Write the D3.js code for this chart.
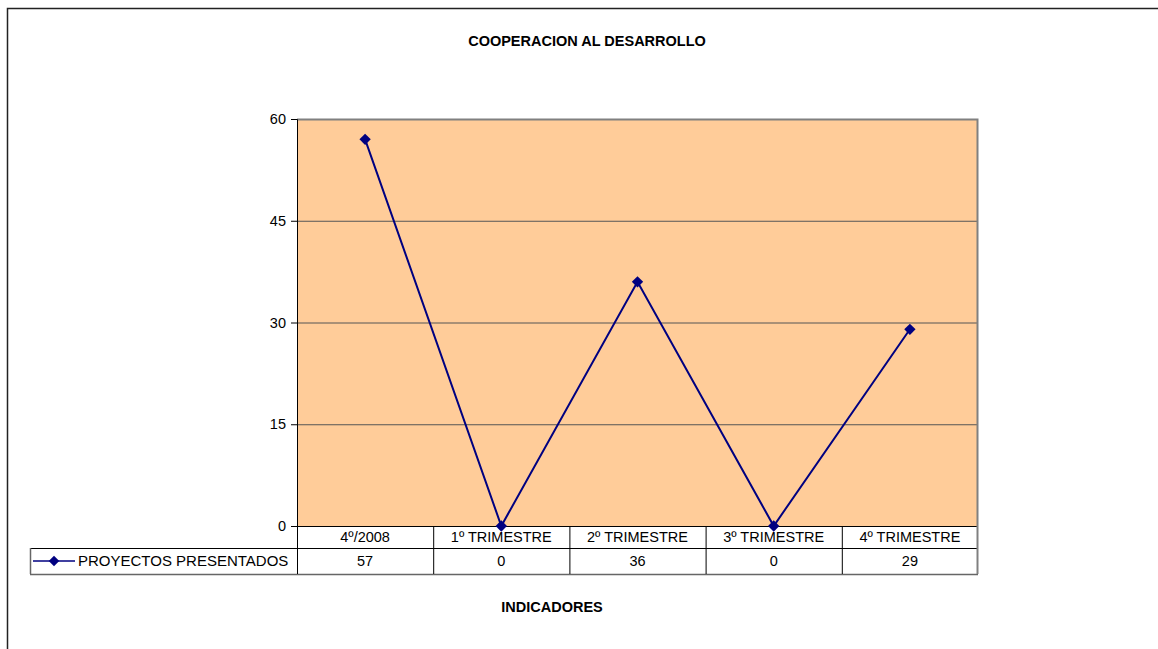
<!DOCTYPE html>
<html>
<head>
<meta charset="utf-8">
<script src="https://cdn.jsdelivr.net/npm/d3@7"></script>
<style>
body { margin: 0; background: #fff; }
text { font-family: Arial, "Liberation Sans", sans-serif; }
</style>
</head>
<body>
<div id="chart-area"></div>
<script>
// datos
var categories = ["4º/2008", "1º TRIMESTRE", "2º TRIMESTRE", "3º TRIMESTRE", "4º TRIMESTRE"];
var proyectos = [57, 0, 36, 0, 29];
var yTicks = [0, 15, 30, 45, 60];
var seriesName = "PROYECTOS PRESENTADOS";

var margin = { left: 297, top: 119 };
var width = 681;
var height = 407;
var fs = "14.5px";

var svg = d3.select("#chart-area").append("svg")
    .attr("width", 1158)
    .attr("height", 649);

// marco exterior
svg.append("rect")
    .attr("x", 7.5).attr("y", 8.5)
    .attr("width", 1170).attr("height", 660)
    .attr("fill", "white")
    .attr("stroke", "#222")
    .attr("stroke-width", 1.5);

svg.append("text")
    .attr("x", 587).attr("y", 46)
    .attr("text-anchor", "middle")
    .attr("font-size", fs)
    .attr("font-weight", "bold")
    .text("COOPERACION AL DESARROLLO");

var g = svg.append("g")
    .attr("transform", "translate(" + margin.left + ", " + margin.top + ")");

var x = d3.scaleBand()
    .domain(categories)
    .range([0, width]);

var y = d3.scaleLinear()
    .domain([0, 60])
    .range([height, 0]);

g.append("rect")
    .attr("width", width).attr("height", height)
    .attr("fill", "#ffcc99");

// lineas de division
g.selectAll(".grid")
    .data(yTicks.filter((d) => d > 0 && d < 60))
    .enter().append("line")
    .attr("x1", 0).attr("x2", width)
    .attr("y1", (d) => y(d) + 0.5).attr("y2", (d) => y(d) + 0.5)
    .attr("stroke", "#555").attr("stroke-width", 1);

// borde del area (arriba y derecha gris)
g.append("path")
    .attr("d", "M0," + 0.5 + "H" + (width - 0.5) + "V" + height)
    .attr("fill", "none")
    .attr("stroke", "#808080").attr("stroke-width", 2);

var leftAxis = d3.axisLeft(y).tickValues(yTicks).tickSize(6).tickPadding(5);
var ax = g.append("g").attr("class", "left axis").call(leftAxis);
ax.select(".domain").attr("stroke", "#000");
ax.selectAll("line").attr("stroke", "#000");
ax.selectAll("text").attr("font-size", fs).attr("fill", "#000")
    .style("font-family", "Arial, 'Liberation Sans', sans-serif");

// tabla de datos
var row1 = 22, row2 = 26;
var tbl = g.append("g").attr("transform", "translate(0," + height + ")");

tbl.append("line")
    .attr("x1", 0).attr("x2", width).attr("y1", 0.5).attr("y2", 0.5)
    .attr("stroke", "#000");
tbl.append("line")
    .attr("x1", -267).attr("x2", width).attr("y1", row1 + 0.5).attr("y2", row1 + 0.5)
    .attr("stroke", "#000");
tbl.append("line")
    .attr("x1", -267).attr("x2", width).attr("y1", row1 + row2 + 0.5).attr("y2", row1 + row2 + 0.5)
    .attr("stroke", "#666").attr("stroke-width", 1.5);
tbl.append("line")
    .attr("x1", -266.5).attr("x2", -266.5).attr("y1", row1).attr("y2", row1 + row2)
    .attr("stroke", "#666").attr("stroke-width", 1.5);
tbl.selectAll(".sep")
    .data(categories)
    .enter().append("line")
    .attr("x1", (d) => x(d) + 0.5).attr("x2", (d) => x(d) + 0.5)
    .attr("y1", 0).attr("y2", row1 + row2)
    .attr("stroke", "#000");
tbl.append("line")
    .attr("x1", width - 0.5).attr("x2", width - 0.5).attr("y1", 0).attr("y2", row1 + row2)
    .attr("stroke", "#808080").attr("stroke-width", 2);

tbl.selectAll(".cat")
    .data(categories)
    .enter().append("text")
    .attr("x", (d) => x(d) + x.bandwidth() / 2)
    .attr("y", 16)
    .attr("text-anchor", "middle")
    .attr("font-size", fs)
    .text((d) => d);

tbl.selectAll(".val")
    .data(proyectos)
    .enter().append("text")
    .attr("x", (d, i) => x(categories[i]) + x.bandwidth() / 2)
    .attr("y", row1 + 18)
    .attr("text-anchor", "middle")
    .attr("font-size", fs)
    .text((d) => d);

// leyenda
tbl.append("line")
    .attr("x1", -264).attr("x2", -222).attr("y1", row1 + 13).attr("y2", row1 + 13)
    .attr("stroke", "#000080").attr("stroke-width", 1.5);
tbl.append("path")
    .attr("d", d3.symbol(d3.symbolSquare, 55)())
    .attr("transform", "translate(-243," + (row1 + 13) + ") rotate(45)")
    .attr("fill", "#000080");
tbl.append("text")
    .attr("x", -219).attr("y", row1 + 18)
    .attr("font-size", "15px")
    .text(seriesName);

// serie
var line = d3.line()
    .x((d, i) => x(categories[i]) + x.bandwidth() / 2)
    .y((d) => y(d));

g.append("path")
    .datum(proyectos)
    .attr("d", line)
    .attr("fill", "none")
    .attr("stroke", "#000080")
    .attr("stroke-width", 2);

g.selectAll(".pt")
    .data(proyectos)
    .enter().append("path")
    .attr("d", d3.symbol(d3.symbolSquare, 64)())
    .attr("transform", (d, i) => "translate(" + (x(categories[i]) + x.bandwidth() / 2) + "," + y(d) + ") rotate(45)")
    .attr("fill", "#000080");

svg.append("text")
    .attr("x", 552).attr("y", 612)
    .attr("text-anchor", "middle")
    .attr("font-size", fs)
    .attr("font-weight", "bold")
    .text("INDICADORES");
</script>
</body>
</html>
